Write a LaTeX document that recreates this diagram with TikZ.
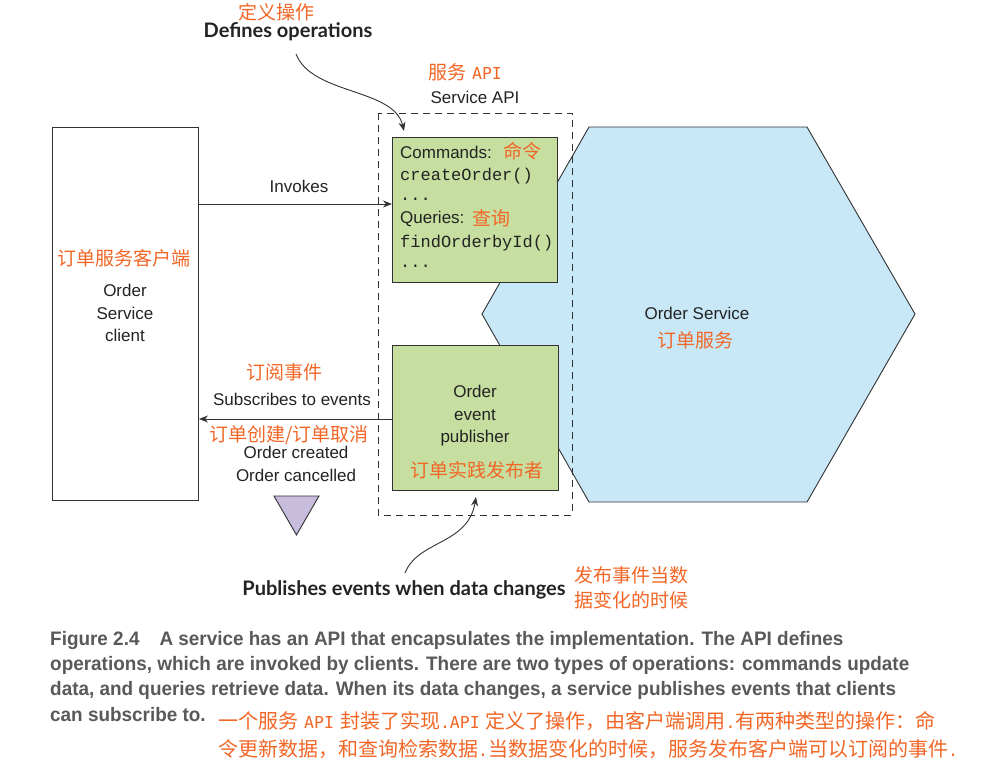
\documentclass[tikz,border=0pt]{standalone}
\usepackage{fontspec}
\setmainfont{Liberation Sans}
\setmonofont{Liberation Mono}
\newfontfamily\cjk{Noto Sans CJK SC}
\newfontfamily\gill{Lato}
\newfontfamily\capfont[FakeStretch=0.97]{Liberation Sans}
\newfontfamily\cmono{DejaVu Sans Mono}
\usetikzlibrary{arrows.meta}
\definecolor{txt}{RGB}{35,35,35}
\definecolor{orng}{RGB}{242,102,38}
\definecolor{grn}{RGB}{198,222,160}
\definecolor{blu}{RGB}{200,232,248}
\definecolor{purp}{RGB}{200,188,220}
\definecolor{capgray}{RGB}{88,89,91}
\definecolor{edge}{RGB}{50,50,50}
\tikzset{
  lbl/.style={font=\fontsize{17}{20}\selectfont, text=txt, inner sep=0pt},
  mono/.style={font=\ttfamily\fontsize{17}{20}\selectfont, text=txt, inner sep=0pt},
  zh/.style={font=\cjk\fontsize{19}{22}\selectfont, text=orng, inner sep=0pt},
  zhcap/.style={font=\cjk\fontsize{20}{24}\selectfont, text=orng, inner sep=0pt, anchor=west},
  boldlbl/.style={font=\gill\bfseries\fontsize{20}{24}\selectfont, text=txt, inner sep=0pt},
  captext/.style={font=\capfont\bfseries\fontsize{19.5}{22}\selectfont, text=capgray, inner sep=0pt, anchor=west},
  greenbox/.style={draw=edge, fill=grn, line width=1pt},
  arr/.style={draw=edge, line width=0.9pt, -{Stealth[length=9pt,width=7pt]}},
}
\newcommand{\hm}[1]{{\cmono\fontsize{16.5}{20}\selectfont #1}}
\begin{document}
\begin{tikzpicture}[x=1pt,y=-1pt]
\useasboundingbox (0,0) rectangle (1007,769);
\fill[white] (0,0) rectangle (1007,769);

% Order Service hexagon
\draw[draw=edge, fill=blu, line width=0.9pt] (589,127) -- (807,127) -- (915,314) -- (807,502) -- (589,502) -- (482,314) -- cycle;
\node[lbl] (os) at (697,313) {Order Service};
\node[zh] (oszh) at (695,340) {订单服务};

% client box
\draw[draw=edge, line width=1pt] (52,127) rectangle (198,500);
\node[zh] at (124,258) {订单服务客户端};
\node[lbl, align=center] (client) at (125,313) {Order\\[2.5pt]Service\\[2.5pt]client};

% green boxes
\node[greenbox, minimum width=165pt, minimum height=145pt, inner sep=0pt] (api) at (475,210) {};
\node[greenbox, minimum width=166pt, minimum height=145pt, inner sep=0pt] (pub) at (475,417.5) {};

% dashed service API box
\draw[edge, line width=0.9pt, dash pattern=on 7pt off 5pt] (378,113) rectangle (572,515);
\node[lbl] at (475,97) {Service API};
\node[zh] at (465,72) {服务\hspace{6pt}\hm{API}};

% api box contents
\node[lbl, anchor=west] at (400,152) {Commands:};
\node[zh] at (522,151) {命令};
\node[mono, anchor=west] at (400,176) {createOrder()};
\node[mono, anchor=west] at (400,199) {...};
\node[lbl, anchor=west] at (400,219) {Queries:};
\node[zh] at (491,218) {查询};
\node[mono, anchor=west] at (400,243) {findOrderbyId()};
\node[mono, anchor=west] at (400,266) {...};

% publisher box contents
\node[lbl, align=center] at (475,416) {Order\\[2.5pt]event\\[2.5pt]publisher};
\node[zh] at (477,470) {订单实践发布者};

% connectors
\coordinate (invS) at (198,204);
\coordinate (invE) at (392,204);
\draw[arr] (invS) -- (invE);
\node[lbl] at (299,186) {Invokes};
\coordinate (subS) at (392,419);
\coordinate (subE) at (199,419);
\draw[arr] (subS) -- (subE);
\node[zh] at (284,372) {订阅事件};
\node[lbl] at (292,399) {Subscribes to events};
\node[zh] at (289,435) {订单创建/订单取消};
\node[lbl] at (296,452) {Order created};
\node[lbl] at (296,475) {Order cancelled};

% event triangle
\draw[draw=edge, fill=purp, line width=0.9pt] (274,496) -- (319,496) -- (296.5,535) -- cycle;

% annotations
\node[zh] at (276,12) {定义操作};
\node[boldlbl] (defops) at (288,32) {Defines operations};
\coordinate (defS) at (296,54);
\coordinate (defE) at (404,131);
\draw[arr] (defS) .. controls (312,95) and (394,88) .. (defE);

\node[boldlbl] (pubev) at (404,590) {Publishes events when data changes};
\node[zh, align=left] at (631,588) {发布事件当数\\[3pt]据变化的时候};
\coordinate (pubS) at (405,573);
\coordinate (pubE) at (476,497);
\draw[arr] (pubS) .. controls (418,540) and (468,545) .. (pubE);

% caption
\node[captext] at (50,640) {Figure 2.4\hspace{20pt}A service has an API that encapsulates the implementation. The API defines};
\node[captext] at (50,665) {operations, which are invoked by clients. There are two types of operations: commands update};
\node[captext] at (50,690) {data, and queries retrieve data. When its data changes, a service publishes events that clients};
\node[captext] at (50,715) {can subscribe to.};
\node[zhcap] at (218,721) {一个服务\hspace{6pt}\hm{API}\hspace{6pt}封装了实现\hm{.API}\hspace{6pt}定义了操作，由客户端调用\hm{.}有两种类型的操作：命};
\node[zhcap] at (218,749) {令更新数据，和查询检索数据\hm{.}当数据变化的时候，服务发布客户端可以订阅的事件\hm{.}};
\end{tikzpicture}
\end{document}
